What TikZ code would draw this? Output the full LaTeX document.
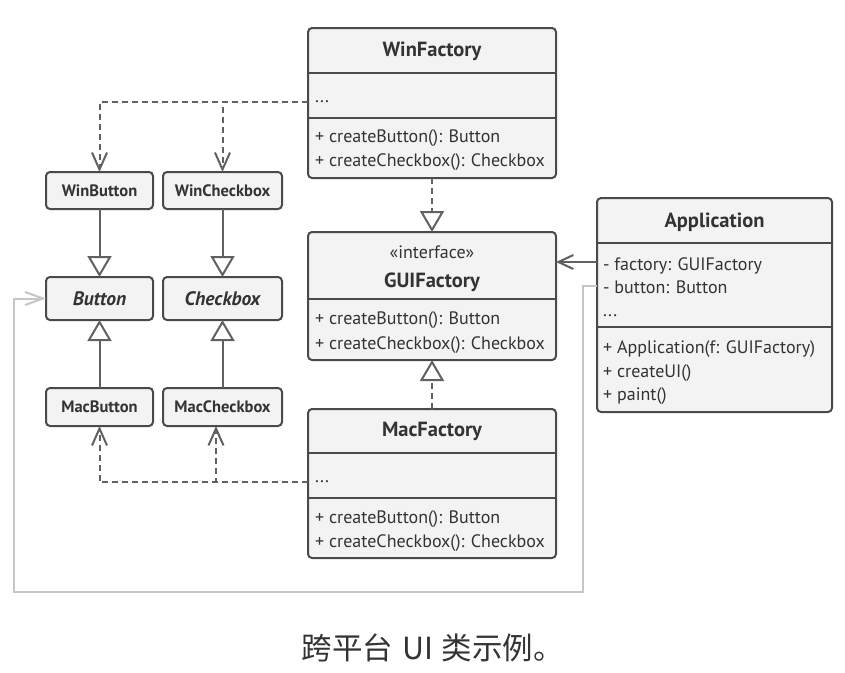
\documentclass[tikz,border=0pt]{standalone}
\usepackage{fontspec}
\setmainfont{PT Sans}
\newfontfamily\cjk{Noto Sans CJK SC}
\usetikzlibrary{arrows.meta}
\definecolor{boxfill}{HTML}{F3F3F3}
\definecolor{boxline}{HTML}{4A4A4A}
\definecolor{connc}{HTML}{616161}
\definecolor{lightc}{HTML}{C6C6C6}
\definecolor{txt}{HTML}{333333}
\begin{document}
\begin{tikzpicture}[x=1pt,y=-1pt,
  box/.style={draw=boxline, fill=boxfill, line width=2pt, rounded corners=4pt, inner sep=0pt, outer sep=0pt},
  smallbox/.style={box, font=\fontsize{16.5}{18}\selectfont\bfseries, text=txt},
  absbox/.style={box, font=\fontsize{19.5}{21}\selectfont\bfseries\itshape, text=txt},
  sepline/.style={draw=boxline, line width=2pt},
  title/.style={font=\fontsize{20.5}{22}\selectfont\bfseries, text=txt, inner sep=0pt, anchor=base},
  stereo/.style={font=\fontsize{18}{20}\selectfont, text=txt, inner sep=0pt, anchor=base},
  member/.style={font=\fontsize{18}{20}\selectfont, text=txt, inner sep=0pt, anchor=base west},
  connline/.style={draw=connc, line width=2pt},
  dep/.style={connline, dash pattern=on 6pt off 4pt, -{Straight Barb[length=17pt,width=15pt]}},
  impl/.style={connline, dash pattern=on 6pt off 4pt, -{Triangle[open, length=21pt, width=24pt, fill=white]}},
  inh/.style={connline, -{Triangle[open, length=21pt, width=24pt, fill=white]}},
  assoc/.style={connline, -{Straight Barb[length=15pt,width=14pt]}},
  use/.style={draw=lightc, line width=2pt, -{Straight Barb[length=18pt,width=13pt]}}
]
\useasboundingbox[fill=white] (0,0) rectangle (845,672);

% ---- WinFactory
\node[box, minimum width=248pt, minimum height=150pt] (winf) at (432,103) {};
\draw[sepline] (308,73) -- (556,73);
\draw[sepline] (308,118) -- (556,118);
\node[title] (winft) at (432,56) {WinFactory};
\node[member] (winfa) at (315,102) {...};
\node[member] (winfm1) at (315,142) {+ createButton(): Button};
\node[member] (winfm2) at (315,166.5) {+ createCheckbox(): Checkbox};

% ---- GUIFactory
\node[box, minimum width=248pt, minimum height=128pt] (gui) at (432,296) {};
\draw[sepline] (308,299) -- (556,299);
\node[stereo] (guis) at (432,258) {«interface»};
\node[title] (guit) at (432,287) {GUIFactory};
\node[member] (guim1) at (315,324) {+ createButton(): Button};
\node[member] (guim2) at (315,349) {+ createCheckbox(): Checkbox};

% ---- MacFactory
\node[box, minimum width=248pt, minimum height=149pt] (macf) at (432,483.5) {};
\draw[sepline] (308,453) -- (556,453);
\draw[sepline] (308,498) -- (556,498);
\node[title] (macft) at (432,436) {MacFactory};
\node[member] (macfa) at (315,482) {...};
\node[member] (macfm1) at (315,523) {+ createButton(): Button};
\node[member] (macfm2) at (315,547) {+ createCheckbox(): Checkbox};

% ---- Application
\node[box, minimum width=235pt, minimum height=214pt] (app) at (714.5,305) {};
\draw[sepline] (597,243) -- (832,243);
\draw[sepline] (597,327) -- (832,327);
\node[title] (appt) at (714.5,227) {Application};
\node[member] (appa1) at (603,270) {- factory: GUIFactory};
\node[member] (appa2) at (603,293) {- button: Button};
\node[member] (appa3) at (603,316) {...};
\node[member] (appm1) at (603,353) {+ Application(f: GUIFactory)};
\node[member] (appm2) at (603,377) {+ createUI()};
\node[member] (appm3) at (603,400) {+ paint()};

% ---- products
\node[smallbox, minimum width=107pt, minimum height=37pt] (winb) at (99.5,190.5) {WinButton};
\node[smallbox, minimum width=119pt, minimum height=37pt] (winc) at (222.5,190.5) {WinCheckbox};
\node[absbox, minimum width=107pt, minimum height=43pt] (btn) at (99.5,298.5) {Button};
\node[absbox, minimum width=119pt, minimum height=43pt] (chk) at (222.5,298.5) {Checkbox};
\node[smallbox, minimum width=107pt, minimum height=38pt] (macb) at (99.5,407) {MacButton};
\node[smallbox, minimum width=119pt, minimum height=38pt] (macc) at (222.5,407) {MacCheckbox};

% ---- connectors
\coordinate (wfdots) at (308,102);
\coordinate (mfdots) at (308,482);
\coordinate (maccin) at (216,426);
\coordinate (appfac) at (597,262);
\coordinate (appbtn) at (597,286);

\draw[dep] (wfdots) -| (winb);
\draw[dep] (wfdots) -| (winc);
\draw[dep] (mfdots) -| (macb);
\draw[dep] (mfdots) -| (maccin);

\draw[inh] (winb) -- (btn);
\draw[inh] (macb) -- (btn);
\draw[inh] (winc) -- (chk);
\draw[inh] (macc) -- (chk);

\draw[impl] (winf) -- (gui);
\draw[impl] (macf) -- (gui);

\draw[assoc] (appfac) -- (gui.east |- appfac);
\draw[use] (appbtn) -- (583,286) -- (583,592) -- (14,592) -- (14,298.5) -- (btn.west);

% ---- caption
\node[font=\cjk\fontsize{30.5}{33}\selectfont, text=txt, inner sep=0pt, anchor=base west] (cap) at (301.5,659) {跨平台\hspace{0.3em}UI\hspace{0.28em}类示例。};
\end{tikzpicture}
\end{document}
